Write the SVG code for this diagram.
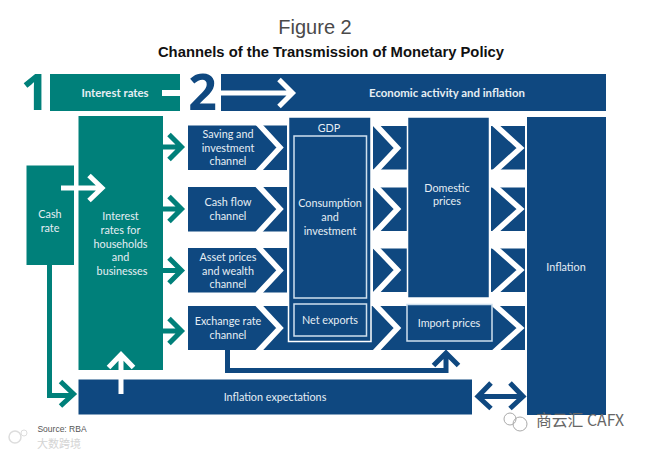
<svg xmlns="http://www.w3.org/2000/svg" width="645" height="450" viewBox="0 0 645 450">
<style>
.b{fill:#0f4880}.t{fill:#00807a}
text{font-family:"Lato","Open Sans","Liberation Sans",sans-serif;font-size:10.800px;fill:#e6eef4;text-anchor:middle}
.h{font-weight:700;font-size:11.400px}
.box{fill:#0f4880;stroke:#cfe0ee;stroke-width:1.5}
.out{fill:#0f4880;stroke:#fff;stroke-width:1.5}
.cw{fill:none;stroke:#fff;stroke-width:5.5;stroke-linejoin:miter}
.ca{fill:none;stroke:#00807a;stroke-width:5}
.wa{fill:none;stroke:#fff;stroke-width:5}
.ba{fill:none;stroke:#0f4880;stroke-width:5}
.num{font-family:"Open Sans","Noto Sans",sans-serif;font-size:50px;font-weight:700}
</style>
<rect width="645" height="450" fill="#fff"/>
<g id="title">
<text x="315" y="34" style="font-family:'Liberation Sans',sans-serif;font-size:20px;fill:#4a4a4a">Figure 2</text>
<text x="331" y="57" style="font-family:'Liberation Sans',sans-serif;font-size:14.800px;font-weight:700;fill:#111">Channels of the Transmission of Monetary Policy</text>
</g>
<g id="step1">
<text x="35" y="110" class="num" style="fill:#00807a">1</text>
<rect class="t" x="50" y="74" width="130" height="37"/>
<rect x="162" y="90" width="18" height="6" fill="#fff"/>
<text x="115" y="97" class="h">Interest rates</text>
</g>
<g id="step2">
<text x="202.500" y="110" class="num" style="fill:#0f4880">2</text>
<rect class="b" x="221" y="74" width="385" height="37"/>
<text x="447" y="97" class="h">Economic activity and inflation</text>
</g>
<g id="cash-rate">
<rect class="t" x="26.500" y="165.500" width="47.500" height="99.500"/>
<text x="50" y="218">Cash</text><text x="50" y="231.500">rate</text>
</g>
<g id="household-rates">
<rect class="t" x="78.500" y="116" width="84.500" height="254"/>
<text x="120.500" y="220">Interest</text><text x="120.500" y="234">rates for</text><text x="120.500" y="247.500">households</text><text x="120.500" y="261">and</text><text x="122" y="274.500">businesses</text>
</g>
<g id="saving-channel">
<rect class="b" x="188" y="125.500" width="99" height="44.500"/>
<path class="cw" d="M257.500 123L280 147.500L257.500 172"/>
<text x="228" y="138">Saving and</text><text x="228" y="151.500">investment</text><text x="228" y="165">channel</text>
</g>
<g id="cash-flow-channel">
<rect class="b" x="188" y="187" width="99" height="44.500"/>
<path class="cw" d="M257.500 185L280 209L257.500 233.500"/>
<text x="228" y="206">Cash flow</text><text x="228" y="220">channel</text>
</g>
<g id="asset-channel">
<rect class="b" x="188" y="248" width="99" height="44.500"/>
<path class="cw" d="M257.500 246L280 270.500L257.500 294.500"/>
<text x="228" y="261">Asset prices</text><text x="228" y="274.500">and wealth</text><text x="228" y="288">channel</text>
</g>
<g id="exchange-channel">
<rect class="b" x="188" y="306" width="99" height="44"/>
<path class="cw" d="M257.500 304L280 328L257.500 352"/>
<text x="228" y="325">Exchange rate</text><text x="228" y="339">channel</text>
</g>
<g id="chevrons">
<rect class="b" x="373" y="126" width="34" height="43.500"/><path class="cw" d="M374 123L397.500 148L374 173"/>
<rect class="b" x="373" y="187.500" width="34" height="43.500"/><path class="cw" d="M374 184.500L397.500 209L374 234"/>
<rect class="b" x="373" y="248.500" width="34" height="43.500"/><path class="cw" d="M374 245.500L397.500 270L374 295"/>
<rect class="b" x="491" y="126" width="34" height="43.500"/><path class="cw" d="M493 123L520.500 148L493 173"/>
<rect class="b" x="491" y="187.500" width="34" height="43.500"/><path class="cw" d="M493 184.500L520.500 209L493 234"/>
<rect class="b" x="491" y="248.500" width="34" height="43.500"/><path class="cw" d="M493 245.500L520.500 270L493 295"/>
<rect class="b" x="287" y="306" width="238" height="44"/>
<path class="cw" d="M374 303.500L397.500 328L374 353"/>
<path class="cw" d="M493 303.500L520.500 328L493 353"/>
</g>
<g id="gdp">
<rect class="out" x="288.500" y="117" width="82.500" height="224.500"/>
<text x="329" y="131.500">GDP</text>
</g>
<g id="consumption">
<rect class="box" x="294" y="136" width="72.500" height="162"/>
<text x="330" y="207">Consumption</text><text x="330" y="221">and</text><text x="330" y="234.500">investment</text>
</g>
<g id="net-exports">
<rect class="box" x="294" y="304" width="72.500" height="32"/>
<text x="330" y="324">Net exports</text>
</g>
<g id="domestic-prices">
<rect class="out" x="407.500" y="117" width="82" height="181"/>
<text x="447" y="191.500">Domestic</text><text x="447" y="205">prices</text>
</g>
<g id="import-prices">
<rect class="box" x="407" y="304.500" width="85" height="36.500"/>
<text x="449" y="327">Import prices</text>
</g>
<g id="inflation">
<rect class="b" x="527" y="117" width="79" height="298"/>
<text x="566" y="270.500">Inflation</text>
</g>
<g id="expectations">
<rect class="b" x="78.500" y="379.500" width="393.500" height="35"/>
<text x="275" y="401">Inflation expectations</text>
</g>
<g id="connectors">
<path class="wa" d="M221 93H290M279 79.500L292.500 93L279 106.500"/>
<path class="wa" d="M61 188H100M89 175.500L102 188L89 200.500"/>
<path class="ca" d="M163 147H181M169 134.500L181.500 147L169 159.500"/>
<path class="ca" d="M163 209H181M169 196.500L181.500 209L169 221.500"/>
<path class="ca" d="M163 270.500H181M169 258L181.500 270.500L169 283"/>
<path class="ca" d="M163 331H181M169 318.500L181.500 331L169 343.500"/>
<path class="wa" d="M121 394V356M108.500 367.500L121 354.500L133.500 367.500"/>
<path class="ca" d="M49.500 265V395.500H72M60.500 381.500L73.500 394L60.500 406"/>
<path class="ba" d="M227.500 350V370.500H446V354M433.500 365.500L446 353L458.500 365.500"/>
<path class="ba" d="M478 396.500H522M491 383L478 396.500L491 408.500M510 383L523 396.500L510 408.500"/>
</g>
<g id="source">
<text x="62" y="432" style="fill:#555;font-size:8.500px;font-family:'Liberation Sans',sans-serif">Source: RBA</text>
<text x="59" y="448" style="fill:#d4d4d4;font-size:11px;font-family:'Noto Sans CJK SC',sans-serif">大数跨境</text>
<circle cx="15" cy="437" r="6" fill="none" stroke="#ddd" stroke-width="1.500"/><circle cx="24" cy="433" r="3" fill="none" stroke="#ddd"/>
</g>
<g id="watermark">
<text x="580" y="426" style="fill:#666;font-size:15.800px;font-family:'Noto Sans CJK SC',sans-serif">商云汇 CAFX</text>
<circle cx="510" cy="419" r="6" fill="none" stroke="#aaa"/><circle cx="520" cy="424" r="7" fill="none" stroke="#aaa"/>
</g>
</svg>
